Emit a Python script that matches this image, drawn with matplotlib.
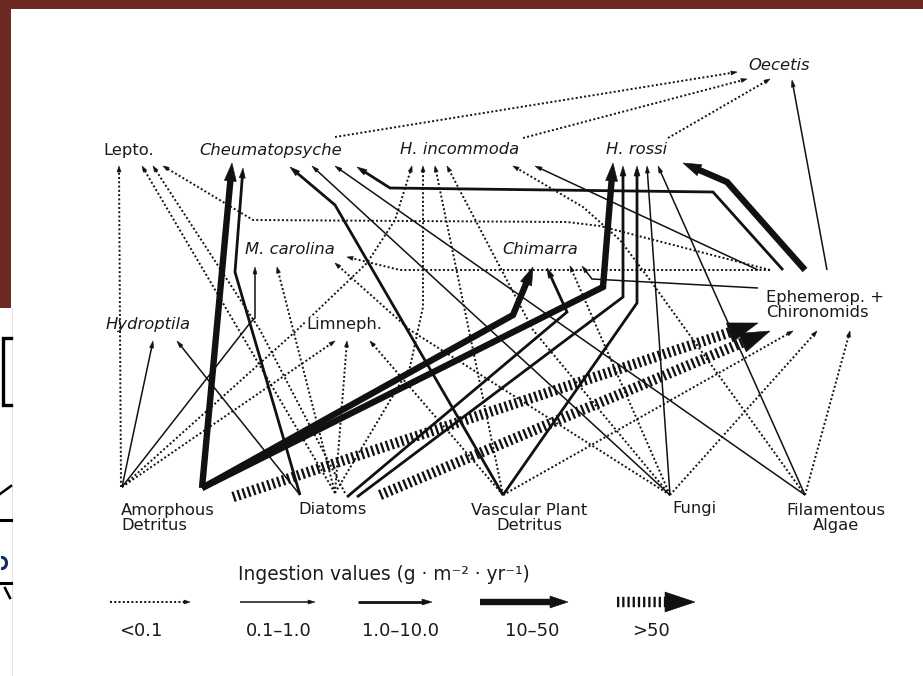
import numpy as np
import matplotlib.pyplot as plt
from matplotlib.patches import Polygon, Rectangle, Arc

plt.rcParams['font.family'] = ['DejaVu Sans']

W, H = 923, 676
INK = '#111111'
MAROON = '#6c2a22'

# ingestion classes (g m-2 yr-1)
classes = ['<0.1', '0.1\u20131.0', '1.0\u201310.0', '10\u201350', '>50']

# node names
names = {
    'OE': 'Oecetis', 'LE': 'Lepto.', 'CH': 'Cheumatopsyche', 'HI': 'H. incommoda',
    'HR': 'H. rossi', 'MC': 'M. carolina', 'CM': 'Chimarra', 'HY': 'Hydroptila',
    'LI': 'Limneph.', 'EC': 'Ephemerop. +\nChironomids',
    'AD': 'Amorphous\nDetritus', 'DI': 'Diatoms', 'VP': 'Vascular Plant\nDetritus',
    'FU': 'Fungi', 'FA': 'Filamentous\nAlgae',
}
italic = ['OE', 'CH', 'HI', 'HR', 'MC', 'CM', 'HY']

# feeding links: (food, consumer, ingestion class index)
links = [
    ('AD', 'LE', 0), ('DI', 'LE', 0), ('DI', 'LE', 0), ('EC', 'LE', 0),
    ('AD', 'CH', 3), ('DI', 'CH', 2), ('VP', 'CH', 2), ('FU', 'CH', 1),
    ('FA', 'CH', 1), ('EC', 'CH', 2),
    ('CH', 'OE', 0), ('HI', 'OE', 0), ('HR', 'OE', 0), ('EC', 'OE', 1),
    ('AD', 'HI', 0), ('DI', 'HI', 0), ('VP', 'HI', 0), ('FU', 'HI', 0),
    ('FA', 'HI', 0), ('EC', 'HI', 1),
    ('AD', 'HR', 3), ('DI', 'HR', 2), ('VP', 'HR', 2), ('FU', 'HR', 1),
    ('FA', 'HR', 1), ('EC', 'HR', 3),
    ('AD', 'CM', 3), ('DI', 'CM', 2), ('FU', 'CM', 0), ('EC', 'CM', 1),
    ('AD', 'MC', 1), ('DI', 'MC', 0), ('FU', 'MC', 0), ('EC', 'MC', 0),
    ('AD', 'HY', 1), ('DI', 'HY', 1),
    ('AD', 'LI', 0), ('DI', 'LI', 0), ('VP', 'LI', 0),
    ('AD', 'EC', 4), ('DI', 'EC', 4), ('VP', 'EC', 0), ('FU', 'EC', 0),
    ('FA', 'EC', 0),
]

# ---- layout (pixel space) ----
label_pos = {
    'OE': (779, 66, 'center'), 'LE': (129, 150, 'center'), 'CH': (271, 150, 'center'),
    'HI': (460, 150, 'center'), 'HR': (637, 150, 'center'), 'MC': (290, 250, 'center'),
    'CM': (540, 250, 'center'), 'HY': (148, 325, 'center'), 'LI': (344, 325, 'center'),
    'EC': (766, 305, 'left'), 'AD': (121, 518, 'left'), 'DI': (333, 509, 'center'),
    'VP': (529, 518, 'center'), 'FU': (694, 509, 'center'), 'FA': (836, 518, 'center'),
}

# route of each link, from food to consumer (arrow tip last)
routes = [
    [(121, 487), (119, 166)],
    [(335, 493), (142, 166)],
    [(345, 493), (260, 330), (153, 166)],
    [(770, 270), (600, 226), (567, 222), (253, 220), (163, 166)],
    [(202, 488), (232, 163)],
    [(300, 495), (235, 272), (243, 168)],
    [(503, 495), (335, 205), (290, 167)],
    [(670, 495), (312, 166)],
    [(805, 495), (335, 166)],
    [(783, 270), (713, 192), (390, 188), (357, 167)],
    [(335, 137), (737, 72)],
    [(523, 138), (747, 79)],
    [(668, 138), (770, 79)],
    [(827, 270), (792, 80)],
    [(122, 487), (297, 330), (367, 263), (395, 220), (412, 166)],
    [(335, 493), (410, 367), (423, 307), (423, 166)],
    [(503, 495), (435, 166)],
    [(670, 495), (533, 330), (447, 166)],
    [(805, 495), (650, 280), (620, 240), (583, 207), (513, 166)],
    [(758, 270), (535, 166)],
    [(202, 488), (603, 287), (613, 163)],
    [(357, 497), (623, 297), (623, 166)],
    [(503, 495), (637, 303), (637, 166)],
    [(670, 495), (647, 166)],
    [(805, 495), (658, 166)],
    [(805, 270), (727, 182), (683, 163)],
    [(202, 488), (513, 315), (533, 267)],
    [(347, 497), (567, 312), (547, 268)],
    [(670, 495), (570, 266)],
    [(758, 288), (592, 279), (582, 266)],
    [(122, 487), (250, 323), (255, 318), (255, 267)],
    [(335, 493), (277, 267)],
    [(670, 495), (410, 330), (335, 263)],
    [(770, 270), (400, 270), (347, 257)],
    [(122, 487), (153, 341)],
    [(300, 495), (177, 341)],
    [(122, 487), (335, 341)],
    [(335, 493), (347, 341)],
    [(503, 495), (370, 341)],
    [(233, 497), (758, 323)],
    [(380, 495), (770, 331)],
    [(503, 495), (793, 331)],
    [(670, 495), (817, 331)],
    [(805, 495), (850, 331)],
]

# line style per ingestion class: linewidth (pt), dashes, head length/width (px)
styles = [
    dict(lw=1.4, ls=(0, (1.0, 1.2)), head=(6, 4)),
    dict(lw=1.1, ls='-', head=(7, 4)),
    dict(lw=2.0, ls='-', head=(10, 6)),
    dict(lw=4.6, ls='-', head=(18, 12)),
    dict(lw=7.5, ls=(0, (0.22, 0.28)), head=(30, 20)),
]


def arrowhead(ax, p0, p1, length, width):
    p0, p1 = np.asarray(p0, float), np.asarray(p1, float)
    d = (p1 - p0) / np.hypot(*(p1 - p0))
    n = np.array([-d[1], d[0]])
    base = p1 - d * length
    tri = [p1, base + n * width / 2, base - n * width / 2]
    ax.add_patch(Polygon(tri, closed=True, fc=INK, ec=INK, lw=0.4, zorder=3))
    return base


def draw_link(ax, pts, cls):
    st = styles[cls]
    pts = [np.asarray(p, float) for p in pts]
    hl, hw = st['head']
    base = arrowhead(ax, pts[-2], pts[-1], hl, hw)
    pts = pts[:-1] + [base + (pts[-1] - base) * 0.15]
    xs, ys = zip(*pts)
    ax.plot(xs, ys, color=INK, lw=st['lw'], ls=st['ls'],
            solid_capstyle='butt', dash_capstyle='butt',
            solid_joinstyle='miter', zorder=2)


fig = plt.figure(figsize=(W / 100, H / 100), dpi=100)
ax = fig.add_axes([0, 0, 1, 1])
ax.set_xlim(0, W)
ax.set_ylim(H, 0)
ax.axis('off')

# slide frame
ax.add_patch(Rectangle((0, 0), W, 9, fc=MAROON, ec='none', zorder=0))
ax.add_patch(Rectangle((0, 0), 11, 308, fc=MAROON, ec='none', zorder=0))
ax.plot([11.5, 11.5], [308, H], color='#e4e4e4', lw=0.8)
ax.plot([11, 3, 3, 11], [338, 338, 405, 405], color='black', lw=2.4,
        solid_joinstyle='miter')
ax.plot([0, 11], [494, 486], color='black', lw=1.8)
ax.plot([0, 11], [520, 520], color='black', lw=2.2)
ax.add_patch(Arc((2, 563), 9, 11, theta1=-100, theta2=100, color='#102a5c', lw=2.2))
ax.plot([0, 11], [583, 583], color='black', lw=2.2)
ax.plot([5, 10], [588, 598], color='black', lw=1.8)

for (src, dst, cls), pts in zip(links, routes):
    draw_link(ax, pts, cls)

for key, (x, y, ha) in label_pos.items():
    ax.text(x, y, names[key], ha=ha, va='center', fontsize=11.8,
            style='italic' if key in italic else 'normal', color='#1a1a1a',
            linespacing=1.05, zorder=4,
            bbox=dict(fc='white', ec='none', pad=0.6) if key in ('LI', 'EC') else None)

# legend
ax.text(238, 575, 'Ingestion values (g \u00b7 m\u207b\u00b2 \u00b7 yr\u207b\u00b9)',
        ha='left', va='center', fontsize=13.4, color='#1a1a1a')
legend_x = [(110, 190), (240, 315), (358, 432), (480, 568), (617, 695)]
label_x = [141, 279, 400, 532, 651]
for cls, ((x0, x1), lx) in enumerate(zip(legend_x, label_x)):
    draw_link(ax, [(x0, 602), (x1, 602)], cls)
    ax.text(lx, 631, classes[cls], ha='center', va='center', fontsize=13,
            color='#1a1a1a')

fig.savefig('out.png', dpi=100)
